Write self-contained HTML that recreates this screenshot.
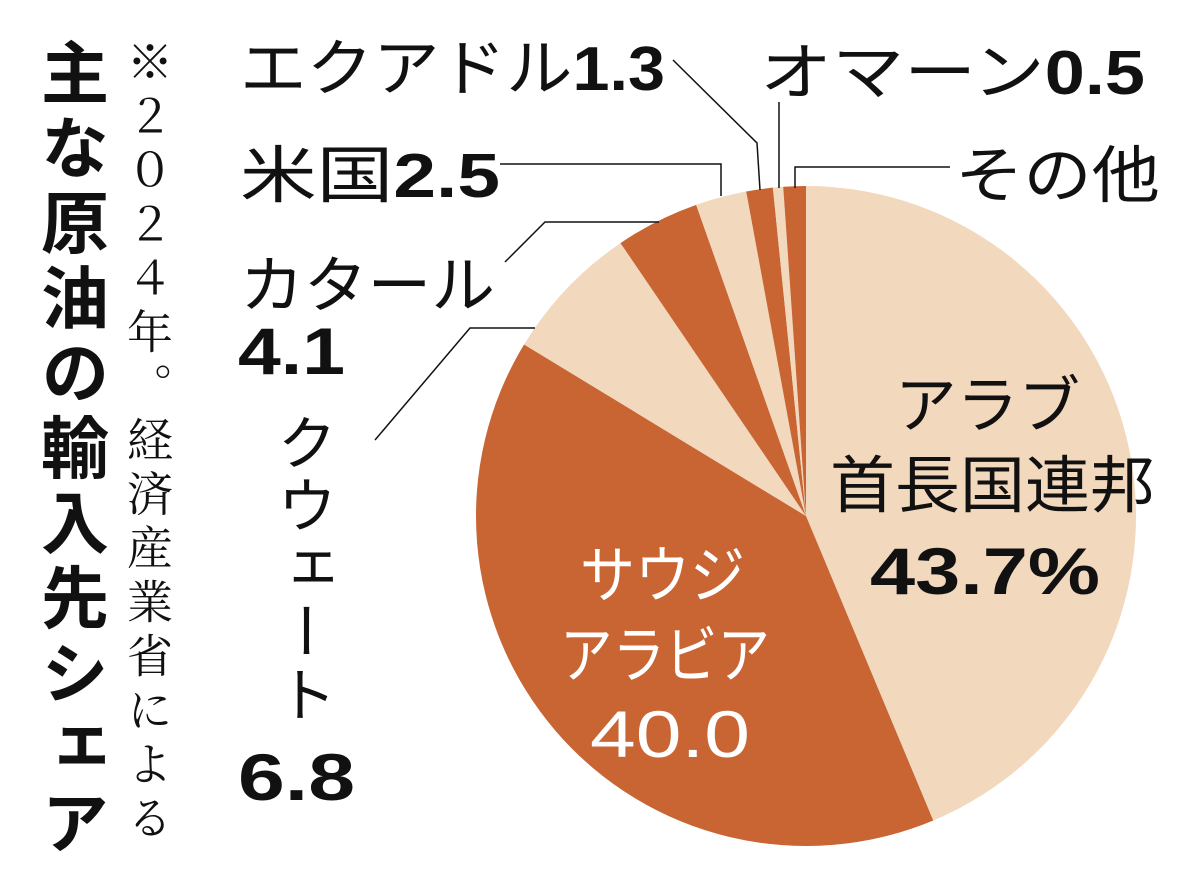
<!DOCTYPE html>
<html><head><meta charset="utf-8"><style>
body{margin:0;background:#fff;width:1200px;height:889px;overflow:hidden}
text{font-family:"Liberation Sans","Noto Sans CJK JP",sans-serif;fill:#111}
</style></head><body>
<svg width="1200" height="889" xmlns="http://www.w3.org/2000/svg">
<g id="pie"></g>
<g stroke="#111" stroke-width="1.5" fill="none">
<polyline points="673,60 757,143 760,190"/>
<polyline points="779,102 779,188"/>
<polyline points="500,164 721,164 721,196"/>
<polyline points="950,167 795,167 795,188"/>
<polyline points="505,262 545,222 659,222"/>
<polyline points="375,440 470,328 535,328"/>
</g>
<text x="75" y="38" font-size="68" font-weight="bold" style="writing-mode:vertical-rl;font-family:'Noto Sans CJK JP',sans-serif" letter-spacing="7">主な原油の輸入先シェア</text>
<text x="150" y="38" font-size="46" style="writing-mode:vertical-rl;font-family:'Noto Serif CJK SC',serif" letter-spacing="8">※２０２４年。経済産業省による</text>
<text x="240" y="90" font-size="62" textLength="425" lengthAdjust="spacingAndGlyphs">エクアドル<tspan font-weight="bold">1.3</tspan></text>
<text x="760" y="94" font-size="62" textLength="385" lengthAdjust="spacingAndGlyphs">オマーン<tspan font-weight="bold">0.5</tspan></text>
<text x="240" y="197" font-size="62" textLength="260" lengthAdjust="spacingAndGlyphs">米国<tspan font-weight="bold">2.5</tspan></text>
<text x="955" y="197" font-size="62" textLength="205" lengthAdjust="spacingAndGlyphs">その他</text>
<text x="240" y="307" font-size="62" textLength="255" lengthAdjust="spacingAndGlyphs">カタール</text>
<text x="238" y="374" font-size="66" font-weight="bold" textLength="107" lengthAdjust="spacingAndGlyphs">4.1</text>
<text x="302" y="412" font-size="60" style="writing-mode:vertical-rl" letter-spacing="3">クウェート</text>
<text x="238" y="800" font-size="66" font-weight="bold" textLength="117" lengthAdjust="spacingAndGlyphs">6.8</text>
<text x="895" y="427" font-size="62" textLength="185" lengthAdjust="spacingAndGlyphs">アラブ</text>
<text x="830" y="507" font-size="62" textLength="325" lengthAdjust="spacingAndGlyphs">首長国連邦</text>
<text x="870" y="594" font-size="66" font-weight="bold" textLength="230" lengthAdjust="spacingAndGlyphs">43.7%</text>
<text x="580" y="597" font-size="62" textLength="165" lengthAdjust="spacingAndGlyphs" style="fill:#fff">サウジ</text>
<text x="560" y="677" font-size="62" textLength="210" lengthAdjust="spacingAndGlyphs" style="fill:#fff">アラビア</text>
<text x="590" y="757" font-size="66" textLength="160" lengthAdjust="spacingAndGlyphs" style="fill:#fff">40.0</text>
</svg>
<script>
const cx=806,cy=516,r=330,d=[[43.7,'#f2d8bd'],[40.0,'#c96433'],[6.8,'#f2d8bd'],[4.1,'#c96433'],[2.5,'#f2d8bd'],[1.3,'#c96433'],[0.5,'#f2d8bd'],[1.1,'#c96433']];
let a=0,s='';const tot=d.reduce((p,q)=>p+q[0],0);
for(const [v,c] of d){const b=a+v/tot*2*Math.PI;
const x1=cx+r*Math.sin(a),y1=cy-r*Math.cos(a),x2=cx+r*Math.sin(b),y2=cy-r*Math.cos(b);
s+=`<path d="M${cx},${cy}L${x1},${y1}A${r},${r} 0 ${b-a>Math.PI?1:0} 1 ${x2},${y2}Z" fill="${c}"/>`;a=b;}
document.getElementById('pie').innerHTML=s;
</script>
</body></html>
